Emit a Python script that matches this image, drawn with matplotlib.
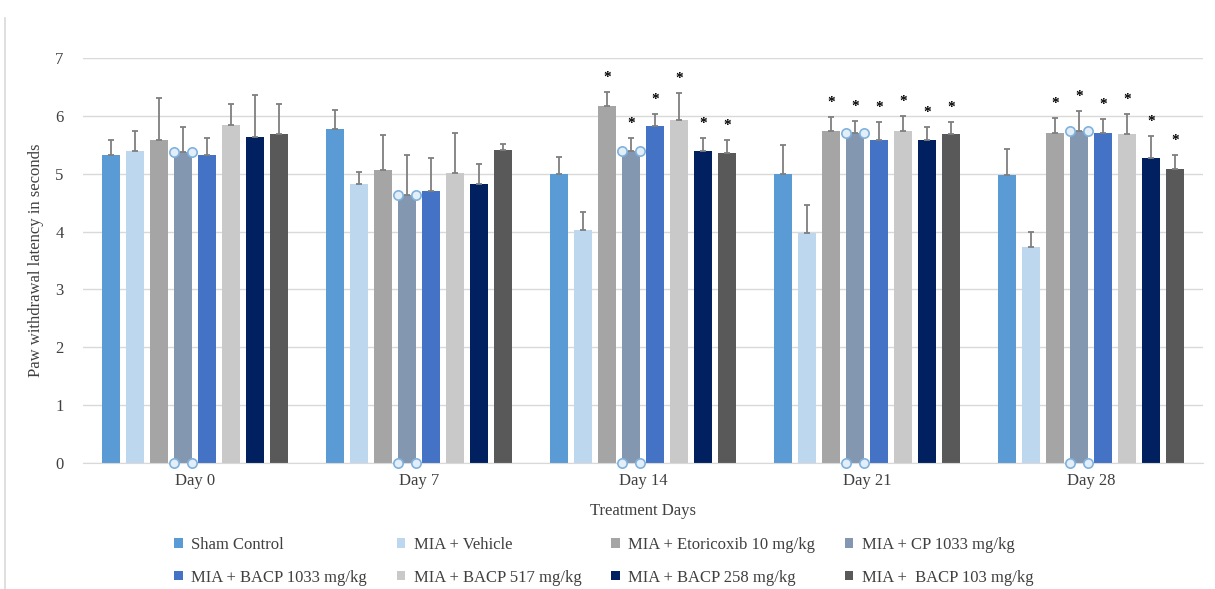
import numpy as np
import matplotlib
matplotlib.use("Agg")
import matplotlib.pyplot as plt
from matplotlib.lines import Line2D

plt.rcParams['font.family'] = ['Liberation Serif', 'DejaVu Serif']

days = ['Day 0', 'Day 7', 'Day 14', 'Day 21', 'Day 28']
groups = ['Sham Control', 'MIA + Vehicle', 'MIA + Etoricoxib 10 mg/kg',
          'MIA + CP 1033 mg/kg', 'MIA + BACP 1033 mg/kg', 'MIA + BACP 517 mg/kg',
          'MIA + BACP 258 mg/kg', 'MIA +  BACP 103 mg/kg']
colors = ['#5b9bd5', '#bdd7ee', '#a5a5a5', '#8497b0',
          '#4472c4', '#c9c9c9', '#002060', '#595959']

# mean latency per group (rows) for each day (columns)
means = np.array([
    [5.32, 5.78, 4.99, 4.99, 4.98],
    [5.40, 4.83, 4.03, 3.98, 3.74],
    [5.58, 5.06, 6.17, 5.73, 5.70],
    [5.38, 4.63, 5.39, 5.71, 5.73],
    [5.32, 4.71, 5.82, 5.59, 5.71],
    [5.85, 5.02, 5.93, 5.73, 5.69],
    [5.64, 4.83, 5.40, 5.59, 5.27],
    [5.69, 5.41, 5.36, 5.69, 5.09],
])
# upper error bars
errs = np.array([
    [0.26, 0.33, 0.30, 0.51, 0.44],
    [0.34, 0.20, 0.30, 0.48, 0.26],
    [0.73, 0.61, 0.24, 0.25, 0.26],
    [0.43, 0.69, 0.22, 0.20, 0.36],
    [0.30, 0.56, 0.21, 0.31, 0.23],
    [0.35, 0.69, 0.46, 0.27, 0.35],
    [0.72, 0.34, 0.21, 0.22, 0.38],
    [0.51, 0.11, 0.22, 0.21, 0.24],
])
# significance marks (1 = *)
stars = np.array([
    [0, 0, 0, 0, 0],
    [0, 0, 0, 0, 0],
    [0, 0, 1, 1, 1],
    [0, 0, 1, 1, 1],
    [0, 0, 1, 1, 1],
    [0, 0, 1, 1, 1],
    [0, 0, 1, 1, 1],
    [0, 0, 1, 1, 1],
])

fig = plt.figure(figsize=(12.15, 5.89), dpi=100)
ax = fig.add_axes([0.0683, 0.2139, 0.9218, 0.6876])

x = np.arange(len(days))
pitch = 0.107
width = 0.08
n = len(groups)

for i in range(n):
    xs = x + (i - (n - 1) / 2) * pitch
    ax.bar(xs, means[i], width, color=colors[i], label=groups[i], zorder=2)
    ax.errorbar(xs, means[i], yerr=[np.zeros(len(days)), errs[i]], fmt='none',
                ecolor='#7f7f7f', elinewidth=1.3, capsize=2.5, capthick=1.3, zorder=3)
    for j in range(len(days)):
        if stars[i, j]:
            ax.text(xs[j], means[i, j] + errs[i, j] + 0.25, '*', ha='center', va='center',
                    fontsize=11, fontweight='bold', color='black')
    if i == 3:
        # selection handles left on this series
        hx = np.concatenate([xs - width / 2, xs + width / 2])
        ax.scatter(hx, np.concatenate([means[i], means[i]]), s=45, facecolor='#e4eef8',
                   edgecolor='#7fb2de', linewidth=1.2, zorder=4, clip_on=False)
        ax.scatter(hx, np.zeros(len(hx)), s=45, facecolor='#e4eef8',
                   edgecolor='#7fb2de', linewidth=1.2, zorder=4, clip_on=False)

ax.set_xlim(-0.5, 4.5)
ax.set_ylim(0, 7)
ax.set_yticks(range(8))
ax.set_xticks(x)
ax.set_xticklabels(days)
ax.yaxis.grid(True, color='#d9d9d9', linewidth=1, zorder=0)
ax.set_axisbelow(True)
for s in ['top', 'right', 'left']:
    ax.spines[s].set_visible(False)
ax.spines['bottom'].set_color('#d9d9d9')
ax.tick_params(axis='both', length=0, labelsize=12, colors='#404040')
ax.tick_params(axis='y', pad=14)
ax.tick_params(axis='x', pad=7)
ax.set_xlabel('Treatment Days', fontsize=12, color='#404040', labelpad=10)
ax.set_ylabel('Paw withdrawal latency in seconds', fontsize=12, color='#404040', labelpad=8)

# legend reads row by row as in the original
handles, labels = ax.get_legend_handles_labels()
order = [0, 4, 1, 5, 2, 6, 3, 7]
fig.legend([handles[k] for k in order], [labels[k] for k in order],
           loc='center', bbox_to_anchor=(0.497, 0.047), ncol=4, frameon=False,
           fontsize=12, handlelength=0.5, handleheight=0.5, handletextpad=0.5,
           columnspacing=1.8, labelspacing=1.0, labelcolor='#404040')

fig.add_artist(Line2D([5 / 1215, 5 / 1215], [0, 0.97], transform=fig.transFigure,
                      color='#d9d9d9', linewidth=1.2))

fig.savefig('out.png', dpi=100)
